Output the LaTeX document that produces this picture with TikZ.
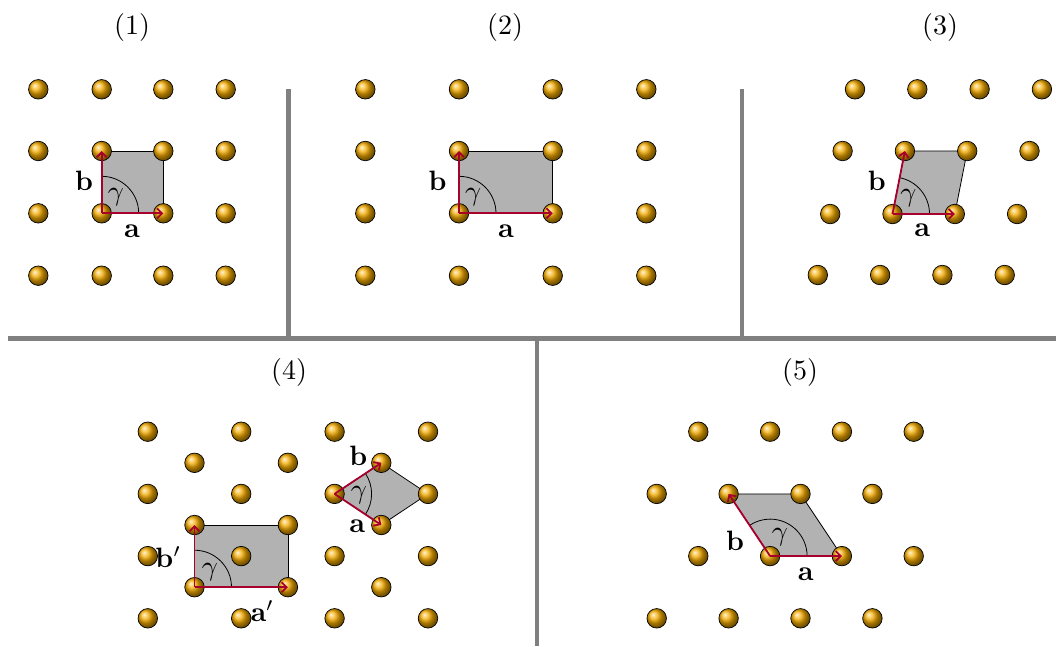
\RequirePackage{fix-cm}
\documentclass[tikz,border=0pt]{standalone}
\usepackage{graphicx}
\usetikzlibrary{arrows.meta,calc,backgrounds}
\definecolor{atomgold}{RGB}{245,172,0}
\definecolor{cellgray}{RGB}{178,178,178}
\definecolor{vecred}{RGB}{168,0,45}
\definecolor{divgray}{RGB}{128,128,128}
\newcommand{\bigtxt}[1]{\scalebox{2.8}{#1}}
\tikzset{
 atom/.style={circle, draw=black, line width=0.7pt, shading=ball, ball color=atomgold, minimum size=19.5pt, inner sep=0pt},
 cell/.style={fill=cellgray, draw=black, line width=0.8pt},
 vec/.style={draw=vecred, line width=1.8pt, -{Straight Barb[length=5pt,width=10pt]}},
 garc/.style={draw=black, line width=0.8pt},
 lbl/.style={font=\fontsize{10}{12}\selectfont, inner sep=0pt},
 ttl/.style={font=\fontsize{10}{12}\selectfont, inner sep=0pt},
 divider/.style={draw=divgray, line width=4.5pt},
}
\begin{document}
\begin{tikzpicture}[x=1pt,y=1pt]
\useasboundingbox (0,0) rectangle (1056,-646);
% titles
\node[ttl] (t1) at (132,-27.5) {\bigtxt{(1)}};
\node[ttl] (t2) at (505,-27.5) {\bigtxt{(2)}};
\node[ttl] (t3) at (940,-27.5) {\bigtxt{(3)}};
\node[ttl] (t4) at (289,-372) {\bigtxt{(4)}};
\node[ttl] (t5) at (800,-372) {\bigtxt{(5)}};
% dividers
\draw[divider] (288.3,-89.3) -- (288.3,-338.3);
\draw[divider] (742,-89.3) -- (742,-338.3);
\draw[divider] (8,-338.3) -- (1056,-338.3);
\draw[divider] (537.2,-338.3) -- (537.2,-646);
% ---------- panel 1 ----------
\foreach \c/\x in {1/38.3,2/101.7,3/163.3,4/225.7}
 \foreach \r/\y in {1/89.3,2/151,3/213.3,4/275.7}
  \node[atom] (p1-\r-\c) at (\x,-\y) {};
\begin{scope}[on background layer]
\draw[cell] (p1-3-2.center) -- (p1-3-3.center) -- (p1-2-3.center) -- (p1-2-2.center) -- cycle;
\end{scope}
\draw[garc] ($(p1-3-2.center)+(0:37)$) arc[start angle=0,end angle=90,radius=37];
\draw[vec] (p1-3-2.center) -- (p1-3-3.center);
\draw[vec] (p1-3-2.center) -- (p1-2-2.center);
\node[lbl] (p1a) at (132,-231) {\bigtxt{$\mathbf{a}$}};
\node[lbl] (p1b) at (84,-180.8) {\bigtxt{$\mathbf{b}$}};
\node[lbl] (p1g) at (115.8,-197.5) {\bigtxt{$\gamma$}};
% ---------- panel 2 ----------
\foreach \c/\x in {1/365.3,2/459,3/552.7,4/646.3}
 \foreach \r/\y in {1/89.3,2/151,3/213.3,4/275.7}
  \node[atom] (p2-\r-\c) at (\x,-\y) {};
\begin{scope}[on background layer]
\draw[cell] (p2-3-2.center) -- (p2-3-3.center) -- (p2-2-3.center) -- (p2-2-2.center) -- cycle;
\end{scope}
\draw[garc] ($(p2-3-2.center)+(0:37)$) arc[start angle=0,end angle=90,radius=37];
\draw[vec] (p2-3-2.center) -- (p2-3-3.center);
\draw[vec] (p2-3-2.center) -- (p2-2-2.center);
\node[lbl] (p2a) at (506,-231) {\bigtxt{$\mathbf{a}$}};
\node[lbl] (p2b) at (437.5,-180.8) {\bigtxt{$\mathbf{b}$}};
\node[lbl] (p2g) at (473.1,-197.5) {\bigtxt{$\gamma$}};
% ---------- panel 3 ----------
\foreach \r/\y/\s in {1/89.3/0,2/151/-12.4,3/214/-24.8,4/275/-37.2}
 \foreach \c in {1,2,3,4}
  \node[atom] (s\r-\c) at ({855+\s+62.3*(\c-1)},-\y) {};
\begin{scope}[on background layer]
\draw[cell] (s3-2.center) -- (s3-3.center) -- (s2-3.center) -- (s2-2.center) -- cycle;
\end{scope}
\draw[garc] ($(s3-2.center)+(0:37)$) arc[start angle=0,end angle=78.9,radius=37];
\draw[vec] (s3-2.center) -- (s3-3.center);
\draw[vec] (s3-2.center) -- (s2-2.center);
\node[lbl] (p3a) at (922.3,-230) {\bigtxt{$\mathbf{a}$}};
\node[lbl] (p3b) at (876.7,-180.7) {\bigtxt{$\mathbf{b}$}};
\node[lbl] (p3g) at (908.3,-198.3) {\bigtxt{$\gamma$}};
% ---------- panel 4 ----------
\foreach \r/\y in {1/431.7,3/493.9,5/556.1,7/618.3}
 \foreach \c/\x in {1/147.8,2/241.2,3/334.6,4/428.0}
  \node[atom] (q\r-\c) at (\x,-\y) {};
\foreach \r/\y in {2/462.8,4/525,6/587.2}
 \foreach \c/\x in {1/194.5,2/287.9,3/381.3}
  \node[atom] (q\r-\c) at (\x,-\y) {};
\begin{scope}[on background layer]
\draw[cell] (q3-3.center) -- (q4-3.center) -- (q3-4.center) -- (q2-3.center) -- cycle;
\draw[cell] (q6-1.center) -- (q6-2.center) -- (q4-2.center) -- (q4-1.center) -- cycle;
\end{scope}
\draw[garc] ($(q3-3.center)+(-33.66:37)$) arc[start angle=-33.66,end angle=33.66,radius=37];
\draw[garc] ($(q6-1.center)+(0:37)$) arc[start angle=0,end angle=90,radius=37];
\draw[vec] (q3-3.center) -- (q2-3.center);
\draw[vec] (q3-3.center) -- (q4-3.center);
\draw[vec] (q6-1.center) -- (q6-2.center);
\draw[vec] (q6-1.center) -- (q4-1.center);
\node[lbl] (p4b) at (358.3,-455.7) {\bigtxt{$\mathbf{b}$}};
\node[lbl] (p4a) at (357.3,-526.7) {\bigtxt{$\mathbf{a}$}};
\node[lbl] (p4g) at (359,-495) {\bigtxt{$\gamma$}};
\node[lbl] (p4bp) at (168.3,-557.3) {\bigtxt{$\mathbf{b}'$}};
\node[lbl] (p4ap) at (262.3,-610.7) {\bigtxt{$\mathbf{a}'$}};
\node[lbl] (p4gp) at (210,-571.7) {\bigtxt{$\gamma$}};
% ---------- panel 5 ----------
\foreach \r/\y in {1/431.7,3/556.1}
 \foreach \c/\x in {1/698.3,2/770.1,3/841.9,4/913.7}
  \node[atom] (r\r-\c) at (\x,-\y) {};
\foreach \r/\y in {2/493.9,4/618.3}
 \foreach \c/\x in {1/656.7,2/728.6,3/800.5,4/872.4}
  \node[atom] (r\r-\c) at (\x,-\y) {};
\begin{scope}[on background layer]
\draw[cell] (r3-2.center) -- (r3-3.center) -- (r2-3.center) -- (r2-2.center) -- cycle;
\end{scope}
\draw[garc] ($(r3-2.center)+(0:37)$) arc[start angle=0,end angle=123.7,radius=37];
\draw[vec] (r3-2.center) -- (r3-3.center);
\draw[vec] (r3-2.center) -- (r2-2.center);
\node[lbl] (p5a) at (805.7,-574) {\bigtxt{$\mathbf{a}$}};
\node[lbl] (p5b) at (735,-540.7) {\bigtxt{$\mathbf{b}$}};
\node[lbl] (p5g) at (780,-536.7) {\bigtxt{$\gamma$}};
\end{tikzpicture}
\end{document}
